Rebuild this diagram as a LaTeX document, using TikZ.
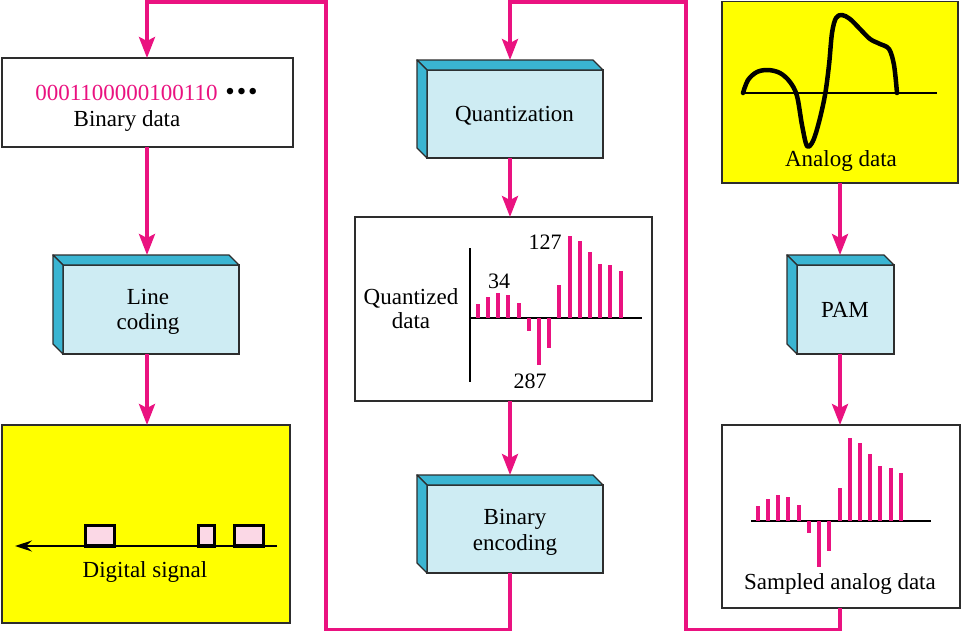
\documentclass[tikz,border=0pt]{standalone}
\usepackage{fontspec}
\setmainfont{Liberation Serif}
\usetikzlibrary{arrows.meta}
\definecolor{pk}{RGB}{234,18,128}
\definecolor{lb}{RGB}{206,236,243}
\definecolor{db}{RGB}{58,181,210}
\definecolor{yl}{RGB}{255,255,0}
\definecolor{pp}{RGB}{251,216,230}
\definecolor{bd}{RGB}{45,45,45}
\begin{document}
\begin{tikzpicture}[x=1pt,y=-1pt,
  txt/.style={font=\fontsize{23}{26}\selectfont, inner sep=0pt, anchor=base},
  num/.style={font=\fontsize{22}{26}\selectfont, inner sep=0pt, anchor=base},
  flat/.style={draw=bd, line width=1.4pt, inner sep=0pt, outer sep=0pt},
  front/.style={flat, fill=lb},
  side/.style={fill=db, draw=bd, line width=1.4pt, line join=round},
  link/.style={draw=pk, line width=3.6pt, line join=miter, -{Stealth[length=21pt,width=16pt,inset=4pt]}},
  axisline/.style={draw=black, line width=1.8pt},
  pulse/.style={draw=black, line width=3.4pt, fill=pp},
]
\useasboundingbox (0,0) rectangle (966,632);
\fill[white] (0,0) rectangle (966,632);

% ---------- plain and yellow boxes
\node[flat, fill=white, minimum width=291pt, minimum height=89pt] (bin) at (147.5,102.5) {};
\node[flat, fill=yl, minimum width=288pt, minimum height=198pt] (dig) at (146,524) {};
\node[flat, fill=white, minimum width=297pt, minimum height=184pt] (qd) at (503.5,309) {};
\node[flat, fill=yl, minimum width=236pt, minimum height=181.5pt] (ana) at (840,92.25) {};
\node[flat, fill=white, minimum width=238pt, minimum height=183pt] (smp) at (841,516.5) {};

% ---------- 3D boxes
\newcommand\facesof[1]{%
  \filldraw[side] (#1.north west) -- ++(-10,-10) -- ([shift={(-10pt,10pt)}]#1.north east) -- (#1.north east) -- cycle;
  \filldraw[side] (#1.north west) -- ++(-10,-10) -- ([shift={(-10pt,10pt)}]#1.south west) -- (#1.south west) -- cycle;
  \coordinate (#1top) at ([yshift=10pt]#1.north);}
\node[front, minimum width=176pt, minimum height=89pt] (lc) at (151,309.5) {};
\facesof{lc}
\node[front, minimum width=176pt, minimum height=88pt] (q) at (515,114) {};
\facesof{q}
\node[front, minimum width=176pt, minimum height=88pt] (be) at (515,529) {};
\facesof{be}
\node[front, minimum width=97pt, minimum height=89pt] (pam) at (845.5,309.5) {};
\facesof{pam}

% ---------- texts
\node[txt, text=pk] (bits) at (146.5,100) {0001100000100110 \kern2pt\textcolor{black}{\fontsize{27}{27}\selectfont•\kern2pt•\kern2pt•}};
\node[txt] (bintxt) at (127,126) {Binary data};
\node[txt] (lct1) at (148,304) {Line};
\node[txt] (lct2) at (148,329) {coding};
\node[txt] (digtxt) at (145,577) {Digital signal};
\node[txt] (qt) at (514.5,121.5) {Quantization};
\node[txt] (qdt1) at (411,304) {Quantized};
\node[txt] (qdt2) at (411,328) {data};
\node[num] (n34) at (499,288) {34};
\node[num] (n127) at (545,249.5) {127};
\node[num] (n287) at (530,388) {287};
\node[txt] (bet1) at (515,524.5) {Binary};
\node[txt] (bet2) at (515,550) {encoding};
\node[txt] (anat) at (841,166) {Analog data};
\node[txt] (pamt) at (845,317.5) {PAM};
\node[txt] (smpt) at (840,589) {Sampled analog data};

% ---------- digital signal
\coordinate (dsR) at (277,546);
\coordinate (dsL) at (15,546);
\draw[axisline, line width=2pt, -{Stealth[length=17pt,width=11pt,inset=6pt]}] (dsR) -- (dsL);
\draw[pulse] (85.5,546) rectangle (114.5,525.5);
\draw[pulse] (198.5,546) rectangle (214.5,525.5);
\draw[pulse] (234.5,546) rectangle (263.5,525.5);

% ---------- quantized data chart
\draw[axisline] (470,248) -- (470,382);
\draw[axisline] (470,318) -- (642,318);
\foreach \t [count=\i from 0] in {304,297,293,295,303,331,365,348,285,236,241,252,264,265,271}
  \fill[pk] ({477.7+10.2*\i-2},318) rectangle ({477.7+10.2*\i+2},\t);

% ---------- analog curve
\draw[axisline] (743,93) -- (937,93);
\draw[line width=4.5pt, line cap=round, line join=round] plot[smooth, tension=0.55] coordinates {
 (743,93) (748,80) (757,72) (768,70) (780,73) (790,82) (797,96) (802,125) (807,146)
 (813,141) (819,122) (825,95) (829,65) (832,33) (836,18) (842,15) (850,19) (860,29)
 (870,39) (880,44) (889,49) (894,65) (897,93)};

% ---------- sampled chart
\draw[axisline] (751,521) -- (931,521);
\foreach \t [count=\i from 0] in {506,499,495,497,505,533,567,551,488,438,443,454,466,468,473}
  \fill[pk] ({757.7+10.23*\i-2},521) rectangle ({757.7+10.23*\i+2},\t);

% ---------- connectors
\coordinate (colB) at (510,0);
\coordinate (colA) at (147,0);
\coordinate (colC) at (840,0);
\coordinate (topL) at (326,2);
\coordinate (botL) at (326,629.5);
\coordinate (topR) at (686,2);
\coordinate (botR) at (686,629.5);

\draw[link] (colA |- bin.south) -- (colA |- lctop);
\draw[link] (colA |- lc.south) -- (colA |- dig.north);
\draw[link] (colB |- q.south) -- (colB |- qd.north);
\draw[link] (colB |- qd.south) -- (colB |- betop);
\draw[link] (colC |- ana.south) -- (colC |- pamtop);
\draw[link] (colC |- pam.south) -- (colC |- smp.north);

\draw[link] (colC |- smp.south) -- (colC |- botR) -- (botR) -- (topR) -- (colB |- topR) -- (colB |- qtop);
\draw[link] (colB |- be.south) -- (colB |- botL) -- (botL) -- (topL) -- (colA |- topL) -- (colA |- bin.north);
\end{tikzpicture}
\end{document}
